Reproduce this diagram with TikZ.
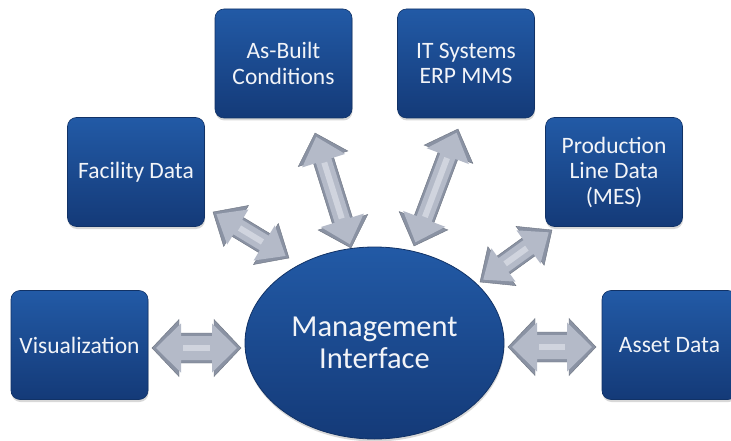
\documentclass[tikz,border=0pt]{standalone}
\usepackage{fontspec}
\setmainfont{Carlito}
\usetikzlibrary{calc,shapes.geometric,shadows}
\definecolor{boxtop}{RGB}{34,90,166}
\definecolor{boxbot}{RGB}{20,58,120}
\definecolor{boxedge}{RGB}{17,50,102}
\definecolor{txt}{RGB}{242,244,248}
\definecolor{arrowdark}{RGB}{138,146,163}
\definecolor{arrowmid}{RGB}{180,186,200}
\definecolor{arrowlight}{RGB}{208,212,222}
\tikzset{
  box/.style={rounded corners=9pt, top color=boxtop, bottom color=boxbot,
    draw=boxedge, line width=0.6pt, text=txt, align=center,
    minimum width=137pt, minimum height=109pt, inner sep=0pt,
    font=\fontsize{23.5}{25.5}\selectfont,
    drop shadow={shadow xshift=0.5pt, shadow yshift=-2.5pt, opacity=0.3}},
  hub/.style={ellipse, top color=boxtop, bottom color=boxbot,
    draw=boxedge, line width=0.8pt, text=txt, align=center,
    minimum width=259pt, minimum height=192pt, inner sep=0pt,
    font=\fontsize{30.5}{32}\selectfont,
    drop shadow={shadow xshift=0.5pt, shadow yshift=-2.5pt, opacity=0.3}},
  arrowouter/.style={fill=arrowdark, draw=arrowdark!80!black, line width=0.4pt, line join=miter},
  arrowinner/.style={fill=arrowmid},
  arrowshine/.style={draw=arrowlight, line width=6pt, line cap=butt}
}
% #1,#2 tips; #3 shaft half; #4 head half; #5 inner shaft half; #6 inner head half
\newcommand\biarrow[6]{%
  \coordinate (ha) at ($(#1)!27pt!(#2)$);
  \coordinate (hb) at ($(#2)!27pt!(#1)$);
  \coordinate (ja) at ($(#1)!29pt!(#2)$);
  \coordinate (jb) at ($(#2)!29pt!(#1)$);
  \coordinate (ia) at ($(#1)!4pt!(#2)$);
  \coordinate (ib) at ($(#2)!4pt!(#1)$);
  \coordinate (ka) at ($(#1)!31pt!(#2)$);
  \coordinate (kb) at ($(#2)!31pt!(#1)$);
  \path[arrowouter] (#1) -- ($(ha)!#4!90:(#1)$) -- ($(ha)!#3!90:(#1)$)
    -- ($(hb)!#3!-90:(#2)$) -- ($(hb)!#4!-90:(#2)$) -- (#2)
    -- ($(hb)!#4!90:(#2)$) -- ($(hb)!#3!90:(#2)$)
    -- ($(ha)!#3!-90:(#1)$) -- ($(ha)!#4!-90:(#1)$) -- cycle;
  \path[arrowinner] (ia) -- ($(ja)!#6!90:(#1)$) -- ($(ja)!#5!90:(#1)$)
    -- ($(jb)!#5!-90:(#2)$) -- ($(jb)!#6!-90:(#2)$) -- (ib)
    -- ($(jb)!#6!90:(#2)$) -- ($(jb)!#5!90:(#2)$)
    -- ($(ja)!#5!-90:(#1)$) -- ($(ja)!#6!-90:(#1)$) -- cycle;
  \draw[arrowshine] (ka) -- (kb);
}
\begin{document}
\begin{tikzpicture}[x=1pt,y=-1pt]
\useasboundingbox (0,0) rectangle (731,441);
\fill[white] (0,0) rectangle (731,441);

\node[box] (vis) at (79.5,345) {Visualization};
\node[box] (fac) at (136,172) {Facility Data};
\node[box] (asb) at (283.5,63.5) {As-Built\\Conditions};
\node[box] (its) at (466,63.5) {IT Systems\\ERP MMS};
\node[box] (pld) at (614,172) {Production\\Line Data\\(MES)};
\node[box, minimum width=135pt] (ast) at (669.5,345) {Asset Data};
\node[hub] (mgmt) at (374.5,343) {Management\\Interface};

\coordinate (v1) at (152,348);
\coordinate (v2) at (241,348);
\coordinate (a1) at (508,347);
\coordinate (a2) at (596,347);
\coordinate (f1) at (213,212);
\coordinate (f2) at (289,258);
\coordinate (b1) at (315,133);
\coordinate (b2) at (351,248);
\coordinate (i1) at (458,129);
\coordinate (i2) at (414,246);
\coordinate (p1) at (552,230);
\coordinate (p2) at (480,282);

\biarrow{v1}{v2}{15pt}{28.5pt}{12pt}{24.5pt}
\biarrow{a1}{a2}{15pt}{28.5pt}{12pt}{24.5pt}
\biarrow{f1}{f2}{11pt}{24pt}{8.5pt}{20.5pt}
\biarrow{b1}{b2}{10.5pt}{26pt}{8pt}{22.5pt}
\biarrow{i1}{i2}{10.5pt}{26pt}{8pt}{22.5pt}
\biarrow{p1}{p2}{11pt}{24pt}{8.5pt}{20.5pt}
\end{tikzpicture}
\end{document}
